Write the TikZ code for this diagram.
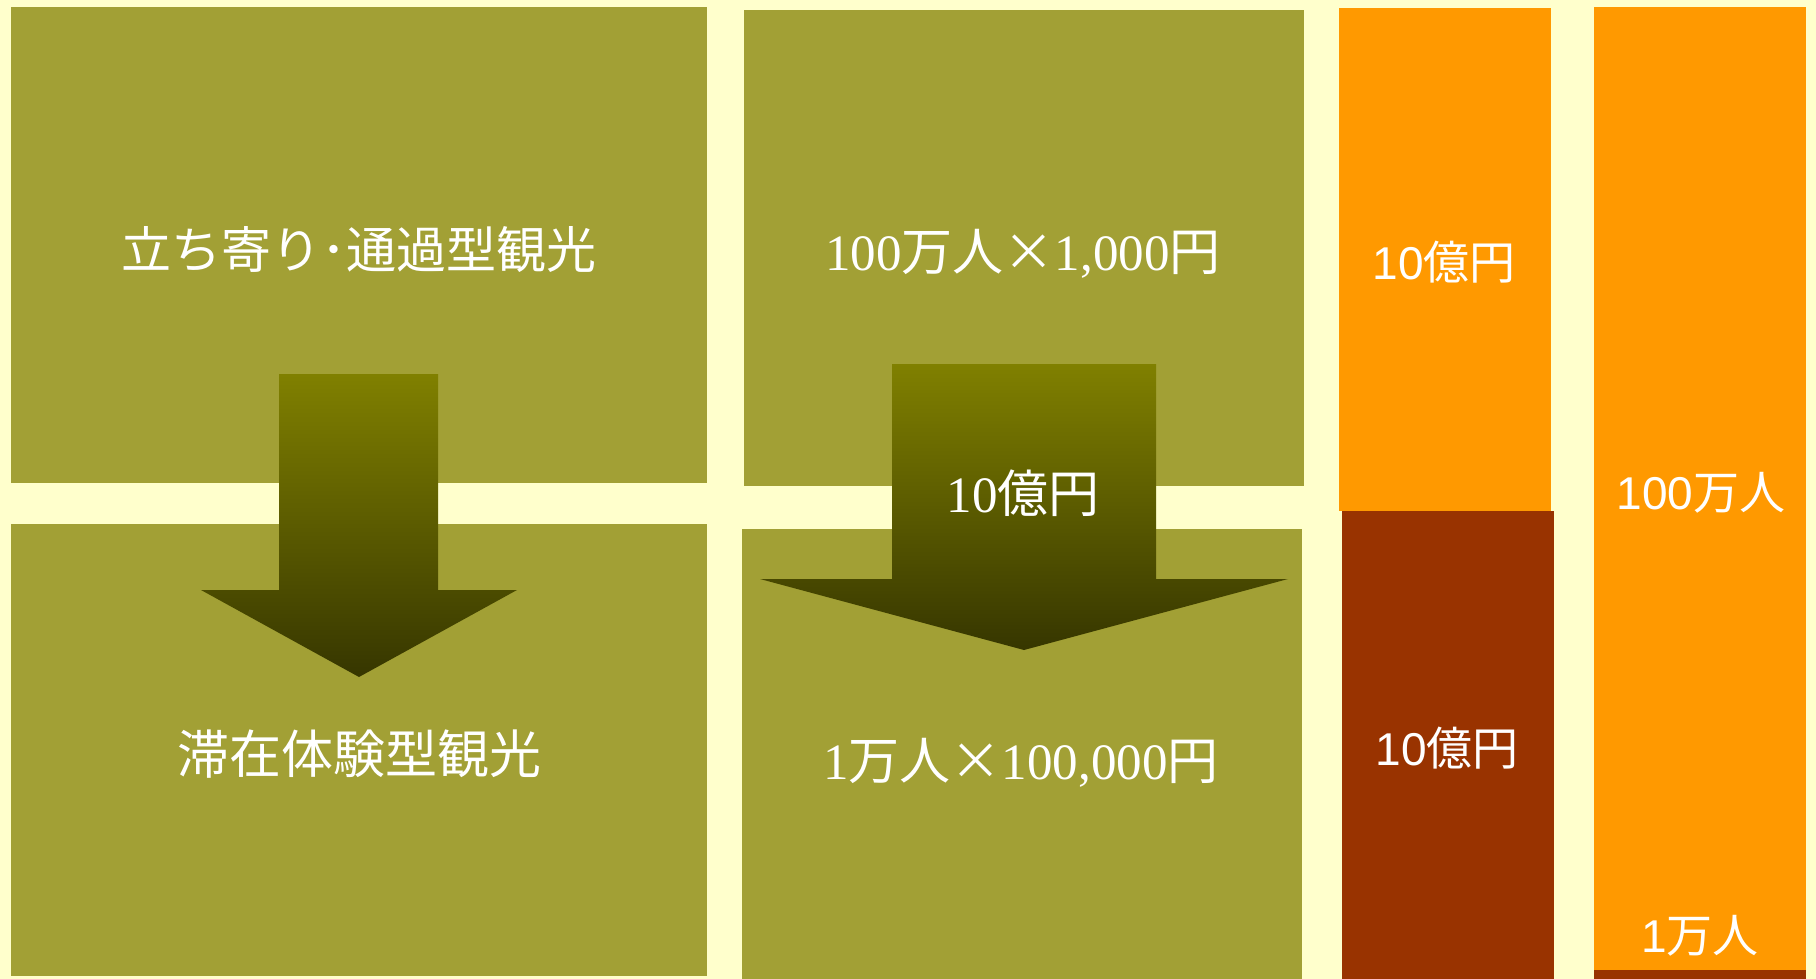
\documentclass[tikz,border=0pt]{standalone}
\usepackage{fontspec}
\setmainfont{Liberation Serif}
\setsansfont{Liberation Sans}
\newfontfamily\jp{Noto Sans CJK JP}
\definecolor{bgyellow}{HTML}{FFFFCC}
\definecolor{olivebox}{HTML}{A2A035}
\definecolor{arrowtop}{HTML}{808000}
\definecolor{arrowbot}{HTML}{363600}
\definecolor{orangebar}{HTML}{FF9900}
\definecolor{brownbar}{HTML}{993300}
\tikzset{
  boxfill/.style={fill=olivebox},
  arrowshade/.style={top color=arrowtop, bottom color=arrowbot, draw=none},
  sertxt/.style={text=white, inner sep=0pt, anchor=base, font=\fontsize{51}{60}\selectfont},
  santxt/.style={text=white, inner sep=0pt, anchor=base, font=\sffamily\fontsize{46}{54}\selectfont},
}
\begin{document}
\begin{tikzpicture}[x=1pt,y=-1pt]
\fill[bgyellow] (0,0) rectangle (1816,979);
\useasboundingbox (0,0) rectangle (1816,979);
% boxes
\fill[boxfill] (11,7) rectangle (707,483);
\fill[boxfill] (11,524) rectangle (707,976);
\fill[boxfill] (744,10) rectangle (1304,486);
\fill[boxfill] (742,529) rectangle (1302,979);
% arrows
\shade[arrowshade] (279,374) -- (438,374) -- (438,590) -- (517,590) -- (359,677) -- (201,590) -- (279,590) -- cycle;
\shade[arrowshade] (892,364) -- (1156,364) -- (1156,579) -- (1288,579) -- (1024,650) -- (760,579) -- (892,579) -- cycle;
% bars
\fill[orangebar] (1339,8) rectangle (1551,511);
\fill[brownbar] (1342,511) rectangle (1554,979);
\fill[orangebar] (1594,7) rectangle (1806,970);
\fill[brownbar] (1594,970) rectangle (1806,979);
% texts
\node[sertxt, font=\jp\fontsize{50}{60}\selectfont] (t1) at (359,268) {立ち寄り･通過型観光};
\node[sertxt, font=\jp\fontsize{52}{60}\selectfont] (t2) at (359,773) {滞在体験型観光};
\node[sertxt] (t3) at (1023,270) {100{\jp 万人×}1,000{\jp 円}};
\node[sertxt] (t4) at (1021,779) {1{\jp 万人×}100,000{\jp 円}};
\node[sertxt] (t5) at (1023,512) {10{\jp 億円}};
\node[santxt] (b1) at (1444,279) {10{\jp 億円}};
\node[santxt] (b2) at (1447,765) {10{\jp 億円}};
\node[santxt] (b3) at (1701,509) {100{\jp 万人}};
\node[santxt] (b4) at (1700,952) {1{\jp 万人}};
\end{tikzpicture}
\end{document}
